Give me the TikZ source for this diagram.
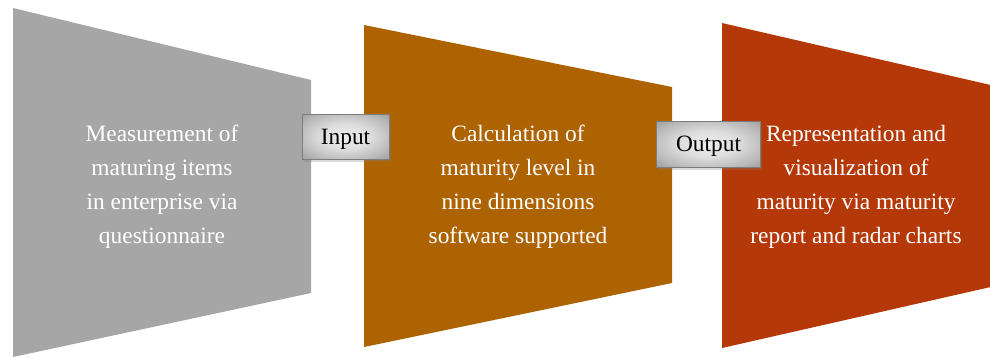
\documentclass[tikz,border=0pt]{standalone}
\usepackage{fontspec}
\setmainfont{Liberation Serif}
\usetikzlibrary{shadows,shadings}
\definecolor{stageGray}{RGB}{166,166,166}
\definecolor{stageOrange}{RGB}{173,99,2}
\definecolor{stageRed}{RGB}{180,56,8}
\definecolor{tagBorder}{RGB}{125,125,125}
% light face that darkens towards the edges and corners
\pgfdeclareradialshading{tagface}{\pgfpoint{0bp}{0bp}}{%
  rgb(0bp)=(0.93,0.93,0.93);
  rgb(14bp)=(0.87,0.87,0.87);
  rgb(28bp)=(0.72,0.72,0.72);
  rgb(40bp)=(0.56,0.56,0.56);
  rgb(50bp)=(0.48,0.48,0.48);
  rgb(72bp)=(0.36,0.36,0.36)}
\tikzset{
  stagetext/.style={text=white, align=center, inner sep=0pt,
    font=\fontsize{23.4}{34}\selectfont},
  tag/.style={draw=tagBorder, line width=1pt, shading=tagface,
    drop shadow={shadow xshift=1.5pt, shadow yshift=-3pt, opacity=0.3},
    text=black, font=\fontsize{23.4}{28}\selectfont, inner sep=0pt,
    text depth=0pt}
}
\begin{document}
\begin{tikzpicture}[x=1pt,y=-1pt]
\useasboundingbox (0,0) rectangle (990,357);
\begin{scope}
\clip (0,0) rectangle (990,357);
% the three stage trapezoids
\fill[stageGray]   (13,8)   -- (311,80) -- (311,293) -- (13,357)  -- cycle;
\fill[stageOrange] (364,25) -- (672,87) -- (672,283) -- (364,347) -- cycle;
\fill[stageRed]    (722,23) -- (995,86) -- (995,286) -- (722,348) -- cycle;
\end{scope}
% stage descriptions
\node[stagetext] (s1) at (162,187) {Measurement of\\maturing items\\in enterprise via\\questionnaire};
\node[stagetext] (s2) at (518,187) {Calculation of\\maturity level in\\nine dimensions\\software supported};
\node[stagetext] (s3) at (856,187) {Representation and\\visualization of\\maturity via maturity\\report and radar charts};
% transition labels
\node[tag, minimum width=87pt, minimum height=45pt] (in) at (345.5,136.5) {Input};
\node[tag, minimum width=104pt, minimum height=46pt] (out) at (708.5,144) {Output};
\end{tikzpicture}
\end{document}
